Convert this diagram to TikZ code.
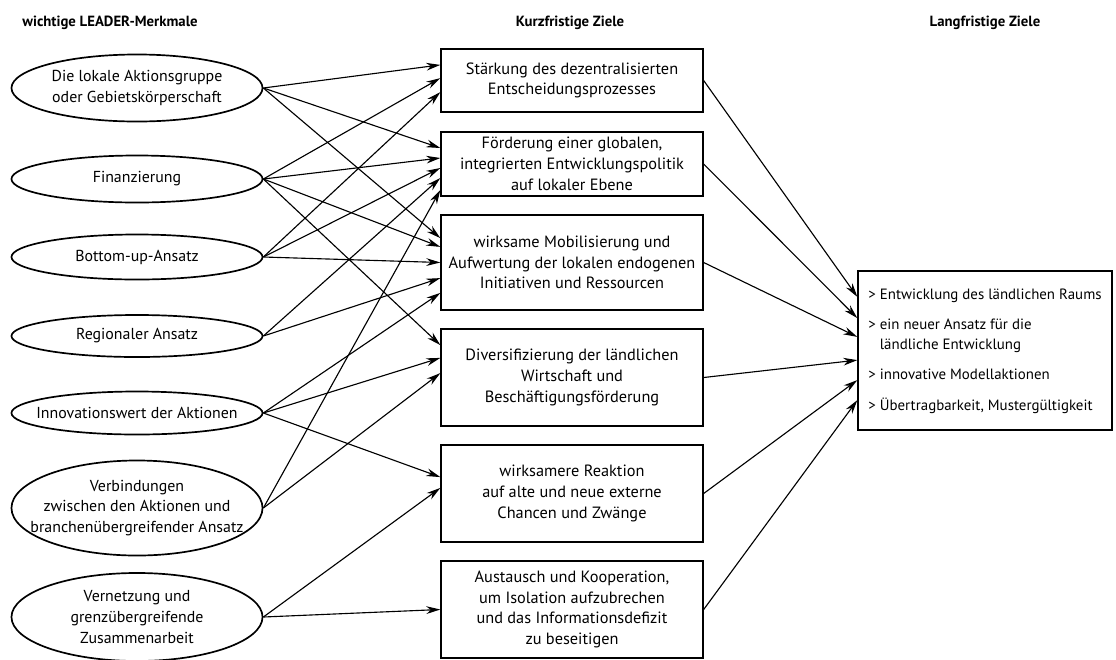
\documentclass[tikz,border=0pt]{standalone}
\usepackage{fontspec}
\setmainfont{PT Sans}
\usetikzlibrary{shapes.geometric,arrows.meta}

\tikzset{
	merkmal/.style={draw, ellipse, line width=1.2pt, minimum width=6.275cm, inner xsep=-0.6cm, inner ysep=0pt, align=center, font=\fontsize{11.3}{14.8}\selectfont},
	ziel/.style={draw, rectangle, line width=0.9pt, minimum width=6.55cm, inner sep=0pt, align=center, font=\fontsize{11.6}{14.8}\selectfont},
	kopf/.style={anchor=base, font=\fontsize{10.5}{12}\selectfont\bfseries}
}

\begin{document}
\begin{tikzpicture}[->,>={Stealth[length=10pt,width=5.5pt]},line width=0.8pt,x=0.025cm,y=-0.025cm]

		\useasboundingbox (0,0) rectangle (1116,659);

		\node(h_1) [kopf] at (110,26) {wichtige LEADER-Merkmale};
		\node(h_2) [kopf] at (570,26) {Kurzfristige Ziele};
		\node(h_3) [kopf] at (985,26) {Langfristige Ziele};

		\node(e_1) [merkmal, minimum height=1.675cm] at (137,88) {Die lokale Aktionsgruppe\\oder Gebietskörperschaft};
		\node(e_2) [merkmal, minimum height=1.175cm] at (137,179) {Finanzierung};
		\node(e_3) [merkmal, minimum height=1.125cm] at (137,257) {Bottom-up-Ansatz};
		\node(e_4) [merkmal, minimum height=1.05cm] at (137,336) {Regionaler Ansatz};
		\node(e_5) [merkmal, minimum height=1.075cm] at (137,413) {Innovationswert der Aktionen};
		\node(e_6) [merkmal, minimum height=2.375cm] at (137,508) {Verbindungen\\zwischen den Aktionen und\\branchenübergreifender Ansatz};
		\node(e_7) [merkmal, minimum height=2.2cm] at (137,617) {Vernetzung und\\grenzübergreifende\\Zusammenarbeit};

		\node(z_1) [ziel, minimum height=1.575cm] at (572,80.5) {Stärkung des dezentralisierten\\Entscheidungsprozesses};
		\node(z_2) [ziel, minimum height=1.6cm] at (572,164) {Förderung einer globalen,\\integrierten Entwicklungspolitik\\auf lokaler Ebene};
		\node(z_3) [ziel, minimum height=2.375cm] at (572,262.5) {wirksame Mobilisierung und\\Aufwertung der lokalen endogenen\\Initiativen und Ressourcen};
		\node(z_4) [ziel, minimum height=2.425cm] at (572,377.5) {Diversifizierung der ländlichen\\Wirtschaft und\\Beschäftigungsförderung};
		\node(z_5) [ziel, minimum height=2.425cm] at (572,493.5) {wirksamere Reaktion\\auf alte und neue externe\\Chancen und Zwänge};
		\node(z_6) [ziel, minimum height=2.425cm] at (572,609.5) {Austausch und Kooperation,\\um Isolation aufzubrechen\\und das Informationsdefizit\\zu beseitigen};

		\node(l_1) [ziel, minimum width=6.35cm, minimum height=3.975cm, font=\fontsize{10.6}{14.5}\selectfont] at (985,350.5) {%
			\begin{tabular}{@{}l@{\ }l@{}}
				> & Entwicklung des ländlichen Raums\\[7pt]
				> & ein neuer Ansatz für die\\
				  & ländliche Entwicklung\\[7pt]
				> & innovative Modellaktionen\\[7pt]
				> & Übertragbarkeit, Mustergültigkeit
			\end{tabular}};

		\draw (e_1.east) -- ([yshift=0.39cm]z_1.west);
		\draw (e_1.east) -- ([yshift=0.4cm]z_2.west);
		\draw (e_1.east) -- ([yshift=0.61cm]z_3.west);
		\draw (e_2.east) -- ([yshift=0.06cm]z_1.west);
		\draw (e_2.east) -- ([yshift=0.15cm]z_2.west);
		\draw (e_2.east) -- ([yshift=0.39cm]z_3.west);
		\draw (e_2.east) -- ([yshift=0.81cm]z_4.west);
		\draw (e_3.east) -- ([yshift=-0.29cm]z_1.west);
		\draw (e_3.east) -- ([yshift=-0.1cm]z_2.west);
		\draw (e_3.east) -- (z_3.west);
		\draw (e_4.east) -- ([yshift=-0.35cm]z_2.west);
		\draw (e_4.east) -- ([yshift=-0.39cm]z_3.west);
		\draw (e_5.east) -- ([yshift=-0.76cm]z_3.west);
		\draw (e_5.east) -- ([yshift=0.49cm]z_4.west);
		\draw (e_5.east) -- ([yshift=0.41cm]z_5.west);
		\draw (e_6.east) -- ([yshift=-0.65cm]z_2.west);
		\draw (e_6.east) -- ([yshift=0.11cm]z_4.west);
		\draw (e_7.east) -- ([yshift=0.14cm]z_5.west);
		\draw (e_7.east) -- (z_6.west);

		\draw (z_1.east) -- ([yshift=1.34cm]l_1.west);
		\draw (z_2.east) -- ([yshift=0.81cm]l_1.west);
		\draw (z_3.east) -- ([yshift=0.34cm]l_1.west);
		\draw (z_4.east) -- ([yshift=-0.24cm]l_1.west);
		\draw (z_5.east) -- ([yshift=-0.74cm]l_1.west);
		\draw (z_6.east) -- ([yshift=-1.24cm]l_1.west);

	\end{tikzpicture}
\end{document}
